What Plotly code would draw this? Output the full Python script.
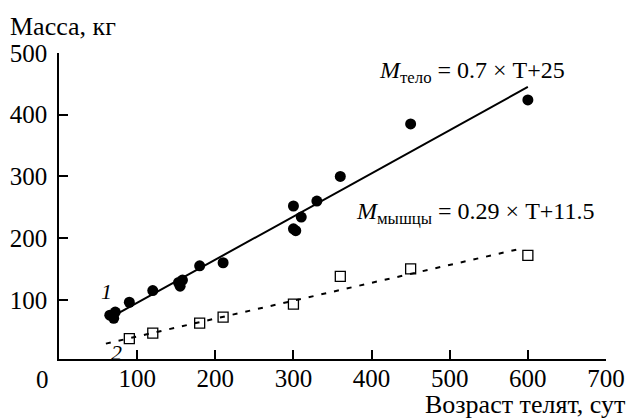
import plotly.graph_objects as go

# Data
body_age = [65, 70, 72, 90, 120, 153, 155, 158, 180, 210, 300, 300, 303, 310, 330, 360, 450, 600]
body_mass = [75, 70, 80, 96, 115, 128, 122, 132, 155, 160, 252, 215, 212, 234, 260, 300, 385, 424]
muscle_age = [90, 120, 180, 210, 300, 360, 450, 600]
muscle_mass = [37, 46, 62, 72, 93, 138, 150, 172]

# Regression coefficients (from the chart's equations)
body_slope, body_intercept = 0.7, 25
muscle_slope, muscle_intercept = 0.29, 11.5
body_fit_age = [72, 600]
muscle_fit_age = [60, 590]

x_ticks = [100, 200, 300, 400, 500, 600, 700]
y_ticks = [100, 200, 300, 400, 500]

FONT = "'Liberation Serif', 'Times New Roman', Times, 'DejaVu Serif', serif"

fig = go.Figure()
fig.add_trace(go.Scatter(
    x=body_fit_age, y=[body_slope * t + body_intercept for t in body_fit_age],
    mode="lines", line=dict(color="black", width=2), hoverinfo="skip"))
fig.add_trace(go.Scatter(
    x=muscle_fit_age, y=[muscle_slope * t + muscle_intercept for t in muscle_fit_age],
    mode="lines", line=dict(color="black", width=2, dash="5px,8px"), hoverinfo="skip"))
fig.add_trace(go.Scatter(
    x=body_age, y=body_mass, mode="markers",
    marker=dict(symbol="circle", size=11, color="black")))
fig.add_trace(go.Scatter(
    x=muscle_age, y=muscle_mass, mode="markers",
    marker=dict(symbol="square-open", size=10, color="black", line=dict(width=1.3, color="black"))))

axis_common = dict(showgrid=False, zeroline=False, showline=True, linecolor="black", linewidth=1.5,
                   ticks="inside", ticklen=9, tickwidth=1.5, tickcolor="black", automargin=False,
                   tickfont=dict(family=FONT, size=25, color="black"))
fig.update_xaxes(range=[0, 700], tickvals=x_ticks, ticktext=[str(v) for v in x_ticks],
                 ticklabelstandoff=-4, **axis_common)
fig.update_yaxes(range=[4, 500], tickvals=y_ticks, ticktext=[str(v) for v in y_ticks],
                 ticklabelstandoff=5, **axis_common)

ann_font = dict(family=FONT, size=26, color="black")
eq_font = dict(family=FONT, size=24, color="black")
annotations = [
    dict(text="Масса, кг", xref="paper", yref="paper", x=-51 / 546.5, y=1 + 27 / 306,
         xanchor="left", yanchor="middle", showarrow=False, font=ann_font),
    dict(text="Возраст телят, сут", xref="paper", yref="paper", x=1 + 21 / 546.5, y=-45 / 306,
         xanchor="right", yanchor="middle", showarrow=False, font=ann_font),
    dict(text="0", xref="x", yref="paper", x=0, y=0, xanchor="right", yanchor="top",
         xshift=-8, yshift=-5, showarrow=False, font=dict(family=FONT, size=25, color="black")),
    dict(text="<i>M</i><sub>тело</sub> = 0.7 × T+25", xref="x", yref="y", x=528, y=470,
         xanchor="center", yanchor="middle", showarrow=False, font=eq_font),
    dict(text="<i>M</i><sub>мышцы</sub> = 0.29 × T+11.5", xref="x", yref="y", x=532, y=240,
         xanchor="center", yanchor="middle", showarrow=False, font=eq_font),
    dict(text="<i>1</i>", xref="x", yref="y", x=61, y=113, showarrow=False,
         font=dict(family=FONT, size=22, color="black")),
    dict(text="<i>2</i>", xref="x", yref="y", x=74, y=15, showarrow=False,
         font=dict(family=FONT, size=22, color="black")),
]

fig.update_layout(
    width=628, height=419,
    margin=dict(l=59, r=22, t=53, b=60),
    paper_bgcolor="white", plot_bgcolor="white",
    showlegend=False,
    font=dict(family=FONT, color="black"),
    annotations=annotations,
)

fig.write_html("out.html", config={"displayModeBar": False},
               post_script="document.body.style.margin='0';document.body.style.padding='0';")
